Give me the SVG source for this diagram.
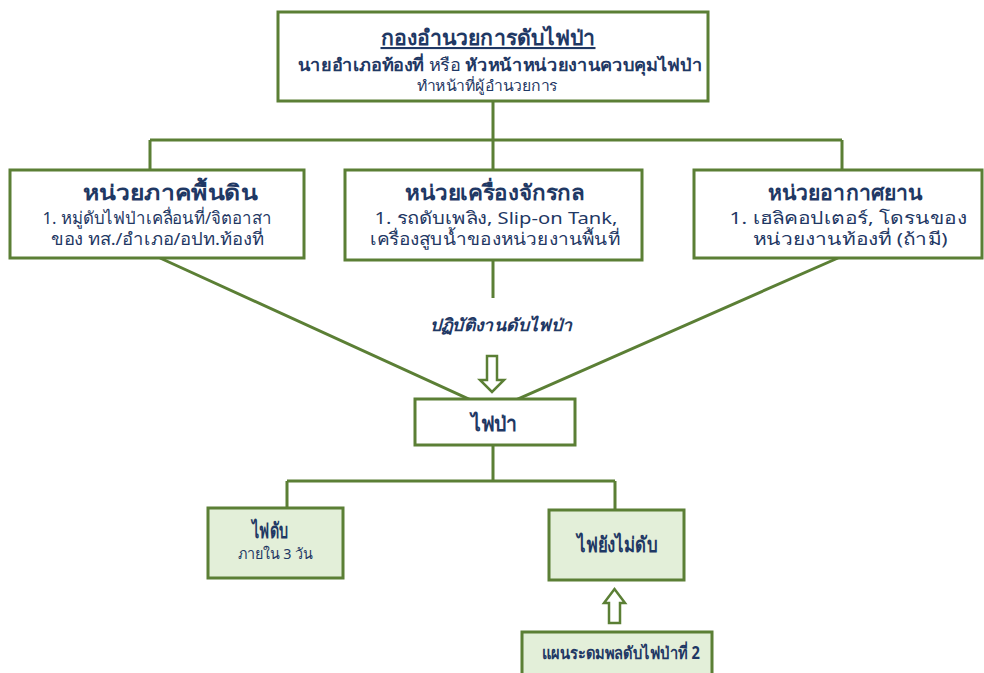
<svg xmlns="http://www.w3.org/2000/svg" width="984" height="673" viewBox="0 0 984 673">
<style>
.box{fill:#ffffff;stroke:#5b7f35;stroke-width:3}
.gbox{fill:#e3efd9;stroke:#5b7f35;stroke-width:3}
.ln{fill:none;stroke:#5b7f35;stroke-width:3}
.arr{fill:#ffffff;stroke:#5b7f35;stroke-width:2.5;stroke-linejoin:miter}
text{font-family:"Noto Sans","Liberation Sans",sans-serif;fill:#1f3864;text-anchor:middle}
.h{font-weight:bold;font-size:21px}
.b{font-weight:bold;font-size:17px}
.r{font-size:17px}
.s{font-size:15px}
</style>
<rect width="984" height="673" fill="#ffffff"/>
<g id="connectors">
<path class="ln" d="M493 102V140M150 140H842M150 140V170M493 140V170M842 140V170"/>
<path class="ln" d="M160 258L493 410L838 258"/>
<path class="ln" d="M493 260V298"/>
<path class="ln" d="M493 445V481M287 481H615M287 481V508M615 481V510"/>
<path class="arr" d="M487 356H497V380H504L492 392L480 380H487Z"/>
<path class="arr" d="M609 623H620V603H625L614.5 589L604 603H609Z"/>
</g>
<g id="n-command">
<rect class="box" x="278" y="12" width="430" height="89"/>
<text class="h" x="488" y="45" font-size="19" text-decoration="underline" textLength="215" lengthAdjust="spacingAndGlyphs">กองอำนวยการดับไฟป่า</text>
<text class="b" x="500" y="71" textLength="405" lengthAdjust="spacingAndGlyphs">นายอำเภอท้องที่ <tspan font-weight="normal">หรือ</tspan> หัวหน้าหน่วยงานควบคุมไฟป่า</text>
<text class="s" x="487" y="91" textLength="141" lengthAdjust="spacingAndGlyphs">ทำหน้าที่ผู้อำนวยการ</text>
</g>
<g id="n-ground">
<rect class="box" x="10" y="170" width="294" height="88"/>
<text class="h" x="170" y="200" textLength="174" lengthAdjust="spacingAndGlyphs">หน่วยภาคพื้นดิน</text>
<text class="r" x="157" y="224" textLength="229" lengthAdjust="spacingAndGlyphs">1. หมู่ดับไฟป่าเคลื่อนที่/จิตอาสา</text>
<text class="r" x="157" y="245" textLength="213" lengthAdjust="spacingAndGlyphs">ของ ทส./อำเภอ/อปท.ท้องที่</text>
</g>
<g id="n-machine">
<rect class="box" x="345" y="170" width="297" height="90"/>
<text class="h" x="495" y="200" textLength="180" lengthAdjust="spacingAndGlyphs">หน่วยเครื่องจักรกล</text>
<text class="r" x="496" y="224" textLength="243" lengthAdjust="spacingAndGlyphs">1. รถดับเพลิง, Slip-on Tank,</text>
<text class="r" x="495" y="245" textLength="250" lengthAdjust="spacingAndGlyphs">เครื่องสูบน้ำของหน่วยงานพื้นที่</text>
</g>
<g id="n-air">
<rect class="box" x="694" y="170" width="288" height="88"/>
<text class="h" x="845" y="200" textLength="154" lengthAdjust="spacingAndGlyphs">หน่วยอากาศยาน</text>
<text class="r" x="848" y="224" textLength="237" lengthAdjust="spacingAndGlyphs">1. เฮลิคอปเตอร์, โดรนของ</text>
<text class="r" x="850" y="245" textLength="195" lengthAdjust="spacingAndGlyphs">หน่วยงานท้องที่ (ถ้ามี)</text>
</g>
<g id="n-op">
<text class="b" x="501" y="331" font-style="italic" textLength="143" lengthAdjust="spacingAndGlyphs">ปฏิบัติงานดับไฟป่า</text>
</g>
<g id="n-fire">
<rect class="box" x="415" y="399" width="160" height="46"/>
<text class="h" x="494" y="431" font-size="20" textLength="47" lengthAdjust="spacingAndGlyphs">ไฟป่า</text>
</g>
<g id="n-out">
<rect class="gbox" x="208" y="508" width="135" height="70"/>
<text class="h" x="270" y="538" font-size="20" textLength="36" lengthAdjust="spacingAndGlyphs">ไฟดับ</text>
<text class="s" x="275" y="559" font-size="16" textLength="75" lengthAdjust="spacingAndGlyphs">ภายใน 3 วัน</text>
</g>
<g id="n-notout">
<rect class="gbox" x="549" y="510" width="135" height="70"/>
<text class="h" x="617" y="552" font-size="20" textLength="80" lengthAdjust="spacingAndGlyphs">ไฟยังไม่ดับ</text>
</g>
<g id="n-plan2">
<rect class="gbox" x="522" y="632" width="190" height="50"/>
<text class="b" x="621" y="659" textLength="158" lengthAdjust="spacingAndGlyphs">แผนระดมพลดับไฟป่าที่ 2</text>
</g>
</svg>
